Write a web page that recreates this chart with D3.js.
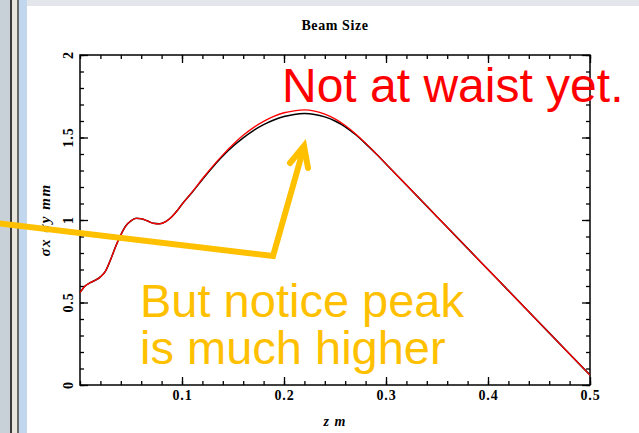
<!DOCTYPE html>
<html>
  <head>
    <title></title>
    <script src="https://cdnjs.cloudflare.com/ajax/libs/d3/7.8.5/d3.min.js"></script>
    <style>
      body { margin: 0; background: #fff; }
    </style>
  </head>
  <body>
    <script type="text/javascript">

    // z positions (m) and beam sizes (mm)
    let zRed = [0, 0.005, 0.010, 0.015, 0.020, 0.025, 0.030, 0.035, 0.040, 0.045, 0.050, 0.055, 0.060, 0.066, 0.072,
      0.078, 0.084, 0.090, 0.096, 0.100, 0.110, 0.120, 0.130, 0.140, 0.150, 0.160, 0.170, 0.180, 0.190, 0.200, 0.210,
      0.220, 0.230, 0.240, 0.250, 0.260, 0.270, 0.280, 0.290, 0.300, 0.310, 0.320, 0.340, 0.360, 0.380, 0.400, 0.420,
      0.440, 0.460, 0.480, 0.500]
    let sizeRed = [0.56, 0.60, 0.62, 0.635, 0.655, 0.69, 0.76, 0.84, 0.91, 0.965, 0.995, 1.01, 1.008, 0.995, 0.98,
      0.977, 0.99, 1.02, 1.062, 1.095, 1.17, 1.25, 1.325, 1.395, 1.458, 1.513, 1.56, 1.598, 1.628, 1.650, 1.662,
      1.667, 1.660, 1.642, 1.613, 1.573, 1.523, 1.466, 1.404, 1.340, 1.276, 1.212, 1.084, 0.956, 0.828, 0.70, 0.572,
      0.444, 0.316, 0.188, 0.06]

    let zBlack = [0, 0.005, 0.010, 0.015, 0.020, 0.025, 0.030, 0.035, 0.040, 0.045, 0.050, 0.055, 0.060, 0.066, 0.072,
      0.078, 0.084, 0.090, 0.096, 0.100, 0.110, 0.120, 0.130, 0.140, 0.150, 0.160, 0.170, 0.180, 0.190, 0.200, 0.210,
      0.220, 0.230, 0.240, 0.250, 0.260, 0.270, 0.280, 0.290, 0.300, 0.310, 0.320, 0.340, 0.360, 0.380, 0.400, 0.420,
      0.440, 0.460, 0.480, 0.500]
    let sizeBlack = [0.56, 0.60, 0.62, 0.635, 0.655, 0.69, 0.76, 0.84, 0.91, 0.965, 0.995, 1.01, 1.008, 0.995, 0.98,
      0.977, 0.99, 1.02, 1.062, 1.095, 1.168, 1.246, 1.32, 1.388, 1.447, 1.498, 1.542, 1.578, 1.606, 1.627, 1.640,
      1.645, 1.640, 1.625, 1.600, 1.565, 1.518, 1.463, 1.403, 1.340, 1.276, 1.212, 1.084, 0.956, 0.828, 0.70, 0.572,
      0.444, 0.316, 0.188, 0.06]

    let xTicks = [0.1, 0.2, 0.3, 0.4, 0.5]
    let yTicks = [0, 0.5, 1, 1.5, 2]

    let outerWidth = 639;
    let outerHeight = 433;
    let margin = { left: 80, top: 55, right: 49, bottom: 48 }
    let innerWidth = outerWidth - margin.left - margin.right;
    let innerHeight = outerHeight - margin.top - margin.bottom;
    let serif = "'Liberation Serif', 'DejaVu Serif', serif"
    let sans = "'Liberation Sans', Arial, sans-serif"
    let orange = "#ffc000"

    let svg = d3.select("body").append("svg")
      .attr("width", outerWidth)
      .attr("height", outerHeight)
      .style("display", "block")

    // window frame bits on the left / top
    svg.append("rect").attr("x", 0).attr("y", 0).attr("width", outerWidth).attr("height", 6).attr("fill", "#e3e7eb")
    svg.append("rect").attr("x", 0).attr("y", 0).attr("width", 10).attr("height", outerHeight).attr("fill", "#c9d1d8")
    svg.append("rect").attr("x", 10).attr("y", 0).attr("width", 2).attr("height", outerHeight).attr("fill", "#3a3a3a")
    svg.append("rect").attr("x", 12).attr("y", 0).attr("width", 5).attr("height", outerHeight).attr("fill", "#e8e5dc")
    svg.append("rect").attr("x", 17).attr("y", 0).attr("width", 2).attr("height", outerHeight).attr("fill", "#6a6a6a")
    svg.append("rect").attr("x", 19).attr("y", 0).attr("width", 8).attr("height", outerHeight).attr("fill", "#c2d6ee")

    let g = svg.append("g")
      .attr("transform", "translate(" + margin.left + "," + margin.top + ")");

    let xScale = d3.scaleLinear().domain([0, 0.5]).range([0, innerWidth]);
    let yScale = d3.scaleLinear().domain([0, 2]).range([innerHeight, 0]);

    let minorX = d3.range(0, 0.5001, 0.02)
    let minorY = d3.range(0, 2.0001, 0.1)

    function styleAxis(sel) {
      sel.select(".domain").remove()
      sel.selectAll("line").attr("stroke", "#000").attr("stroke-width", 1.3)
    }

    // minor ticks on all four sides
    g.append("g").attr("transform", "translate(0," + innerHeight + ")")
      .call(d3.axisBottom(xScale).tickValues(minorX).tickSize(-4).tickFormat("")).call(styleAxis)
    g.append("g")
      .call(d3.axisTop(xScale).tickValues(minorX).tickSize(-4).tickFormat("")).call(styleAxis)
    g.append("g")
      .call(d3.axisLeft(yScale).tickValues(minorY).tickSize(-4).tickFormat("")).call(styleAxis)
    g.append("g").attr("transform", "translate(" + innerWidth + ",0)")
      .call(d3.axisRight(yScale).tickValues(minorY).tickSize(-4).tickFormat("")).call(styleAxis)

    // major ticks
    let xAxis = g.append("g").attr("transform", "translate(0," + innerHeight + ")")
      .call(d3.axisBottom(xScale).tickValues(xTicks).tickSize(-8).tickPadding(5).tickFormat(d3.format(".1f")))
      .call(styleAxis)
    xAxis.selectAll("text").attr("font-family", serif).attr("font-size", 14).attr("font-weight", "bold")
      .attr("letter-spacing", 0.8).attr("fill", "#000")
    g.append("g")
      .call(d3.axisTop(xScale).tickValues(xTicks).tickSize(-8).tickFormat("")).call(styleAxis)
    g.append("g")
      .call(d3.axisLeft(yScale).tickValues(yTicks).tickSize(-8).tickFormat("")).call(styleAxis)
    g.append("g").attr("transform", "translate(" + innerWidth + ",0)")
      .call(d3.axisRight(yScale).tickValues(yTicks).tickSize(-8).tickFormat("")).call(styleAxis)

    // rotated y tick labels
    g.selectAll(".ylab").data(yTicks).enter().append("text")
      .attr("transform", function(d) { return "translate(-12," + yScale(d) + ") rotate(-90)"; })
      .attr("text-anchor", "middle")
      .attr("dy", "0.35em")
      .attr("font-family", serif).attr("font-size", 14).attr("font-weight", "bold").attr("letter-spacing", 0.8)
      .text(function(d) { return d; })

    g.append("rect")
      .attr("width", innerWidth).attr("height", innerHeight)
      .attr("fill", "none").attr("stroke", "#000").attr("stroke-width", 1.5)

    let line = d3.line()
      .x(function(d) { return xScale(d[0]); })
      .y(function(d) { return yScale(d[1]); })
      .curve(d3.curveMonotoneX)

    g.append("path")
      .attr("d", line(d3.zip(zBlack, sizeBlack)))
      .attr("fill", "none").attr("stroke", "#000").attr("stroke-width", 1.5)
    g.append("path")
      .attr("d", line(d3.zip(zRed, sizeRed)))
      .attr("fill", "none").attr("stroke", "#ff0000").attr("stroke-width", 1.3)

    // titles
    svg.append("text")
      .attr("x", margin.left + innerWidth / 2).attr("y", 30)
      .attr("text-anchor", "middle")
      .attr("font-family", serif).attr("font-size", 14).attr("font-weight", "bold").attr("letter-spacing", 0.6)
      .text("Beam Size")
    svg.append("text")
      .attr("x", margin.left + innerWidth / 2).attr("y", 426)
      .attr("text-anchor", "middle")
      .attr("font-family", serif).attr("font-size", 14).attr("font-style", "italic").attr("font-weight", "bold")
      .attr("letter-spacing", 1)
      .text("z m")
    svg.append("text")
      .attr("transform", "translate(50," + (margin.top + innerHeight / 2) + ") rotate(-90)")
      .attr("text-anchor", "middle")
      .attr("font-family", serif).attr("font-size", 15).attr("font-style", "italic").attr("font-weight", "bold")
      .attr("letter-spacing", 1.5)
      .text("σx σy mm")

    // annotations
    svg.append("polyline")
      .attr("points", "-5,223 273,256 304,147")
      .attr("fill", "none").attr("stroke", orange).attr("stroke-width", 6)
      .attr("stroke-linejoin", "miter").attr("stroke-linecap", "butt")
    svg.append("polyline")
      .attr("points", "290,163 304,146 308,168")
      .attr("fill", "none").attr("stroke", orange).attr("stroke-width", 6)
      .attr("stroke-linejoin", "miter").attr("stroke-linecap", "round")

    svg.append("text")
      .attr("x", 282).attr("y", 102)
      .attr("font-family", sans).attr("font-size", 48)
      .attr("fill", "#ff0000")
      .text("Not at waist yet.")
    svg.append("text")
      .attr("x", 140).attr("y", 317)
      .attr("font-family", sans).attr("font-size", 47)
      .attr("fill", orange)
      .text("But notice peak")
    svg.append("text")
      .attr("x", 140).attr("y", 364)
      .attr("font-family", sans).attr("font-size", 47)
      .attr("fill", orange)
      .text("is much higher")

    </script>
  </body>
</html>
